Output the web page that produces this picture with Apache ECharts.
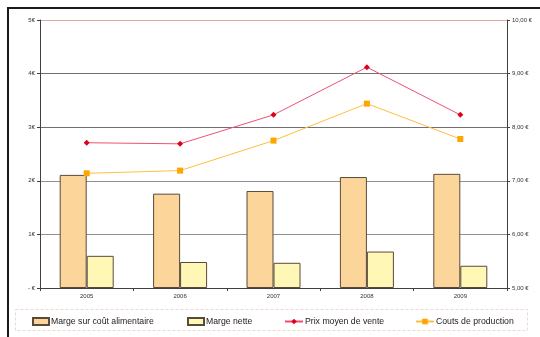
<!DOCTYPE html>
<html>
<head>
<meta charset="utf-8">
<script src="https://cdn.jsdelivr.net/npm/echarts@6/dist/echarts.min.js"></script>
<style>
  html, body { margin: 0; padding: 0; background: #fff; }
  #chart { width: 540px; height: 337px; }
</style>
</head>
<body>
<div id="chart"></div>
<script>
// Years on the category axis
const years = ['2005', '2006', '2007', '2008', '2009'];

// Margins (left axis, € per unit)
const margeAlimentaire = [2.11, 1.76, 1.81, 2.07, 2.13];
const margeNette = [0.60, 0.485, 0.47, 0.68, 0.415];

// Prices and costs (right axis, €)
const prixMoyen = [7.71, 7.69, 8.23, 9.12, 8.23];
const coutsProduction = [7.14, 7.19, 7.75, 8.44, 7.78];

// Tick labels
const leftTicks = ['- €', '1€', '2€', '3€', '4€', '5€'];
const rightTicks = ['5,00 €', '6,00 €', '7,00 €', '8,00 €', '9,00 €', '10,00 €'];

const names = ['Marge sur coût alimentaire', 'Marge nette', 'Prix moyen de vente', 'Couts de production'];
const FONT = 'Liberation Sans, Arial, sans-serif';

const chart = echarts.init(document.getElementById('chart'), null, { renderer: 'canvas' });

function legendAt(name, left, icon) {
  return {
    data: [{ name: name, icon: icon }],
    left: left, top: 317,
    itemWidth: icon ? 16 : 18, itemHeight: 7,
    itemGap: 4,
    padding: 0,
    textStyle: { fontFamily: FONT, fontSize: 8.7, color: '#222', padding: [0, 0, 0, -3] },
    selectedMode: false
  };
}

chart.setOption({
  animation: false,
  graphic: [
    { type: 'rect', shape: { x: 8, y: 8, width: 540, height: 340 },
      style: { fill: 'none', stroke: '#1a1a1a', lineWidth: 2 }, z: 0 },
    { type: 'rect', shape: { x: 15.5, y: 309.5, width: 512, height: 21 },
      style: { fill: 'none', stroke: '#f0d8d0', lineWidth: 1, lineDash: [3, 2] }, z: 0 }
  ],
  legend: [
    legendAt(names[0], 32, 'rect'),
    legendAt(names[1], 187, 'rect'),
    legendAt(names[2], 284),
    legendAt(names[3], 415)
  ],
  grid: { left: 40, right: 33, top: 20, bottom: 49 },
  xAxis: {
    type: 'category',
    data: years,
    axisLine: { lineStyle: { color: '#404040', width: 1 } },
    axisTick: { show: true, length: 3, inside: false, lineStyle: { color: '#404040' } },
    axisLabel: { fontFamily: FONT, fontSize: 6, color: '#333', margin: 5 }
  },
  yAxis: [
    {
      type: 'value', min: 0, max: 5, interval: 1, position: 'left',
      axisLine: { show: true, lineStyle: { color: '#404040' } },
      axisTick: { show: true, length: 3, lineStyle: { color: '#404040' } },
      axisLabel: { fontFamily: FONT, fontSize: 6, color: '#333', margin: 5,
        formatter: (v) => leftTicks[Math.round(v)] },
      splitLine: { show: true, lineStyle: {
        color: ['#808080', '#909090', '#909090', '#707070', '#707070', '#dcaaa0'], width: 1 } }
    },
    {
      type: 'value', min: 5, max: 10, interval: 1, position: 'right',
      axisLine: { show: true, lineStyle: { color: '#404040' } },
      axisTick: { show: true, length: 3, lineStyle: { color: '#404040' } },
      axisLabel: { fontFamily: FONT, fontSize: 6, color: '#333', margin: 5,
        formatter: (v) => rightTicks[Math.round(v) - 5] },
      splitLine: { show: false }
    }
  ],
  series: [
    {
      name: names[0], type: 'bar', yAxisIndex: 0, data: margeAlimentaire,
      barWidth: 27, barGap: '0%',
      itemStyle: { color: '#fcd59b', borderColor: '#5a4a3a', borderWidth: 1 }
    },
    {
      name: names[1], type: 'bar', yAxisIndex: 0, data: margeNette,
      barWidth: 27, barGap: '0%',
      itemStyle: { color: '#fff7b5', borderColor: '#5a4a3a', borderWidth: 1 }
    },
    {
      name: names[2], type: 'line', yAxisIndex: 1, data: prixMoyen,
      symbol: 'diamond', symbolSize: 6, showAllSymbol: true,
      lineStyle: { color: '#ee5070', width: 1 },
      itemStyle: { color: '#e0001c' }, z: 5
    },
    {
      name: names[3], type: 'line', yAxisIndex: 1, data: coutsProduction,
      symbol: 'rect', symbolSize: 6, showAllSymbol: true,
      lineStyle: { color: '#ffbe40', width: 1 },
      itemStyle: { color: '#ffa500' }, z: 5
    }
  ]
});
</script>
</body>
</html>
